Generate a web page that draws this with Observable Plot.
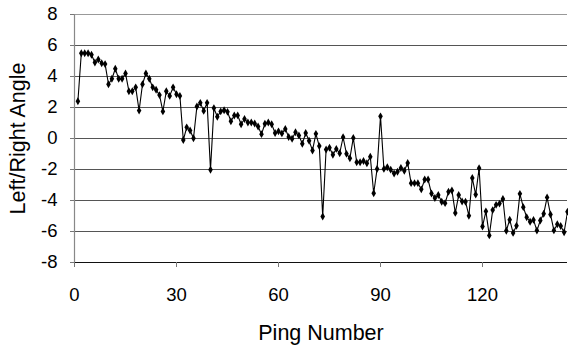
<!DOCTYPE html>
<html>
<head>
<meta charset="utf-8">
<script src="https://cdn.jsdelivr.net/npm/d3@7"></script>
<script src="https://cdn.jsdelivr.net/npm/@observablehq/plot@0.6"></script>
<style>
  html, body { margin: 0; padding: 0; background: #fff; }
  #chart { width: 568px; height: 347px; }
</style>
</head>
<body>
<div id="chart"></div>
<script>
const angles = [
  2.4, 5.5, 5.5, 5.5, 5.4, 4.9, 5.1, 4.85, 4.8, 3.5,
  3.85, 4.5, 3.85, 3.85, 4.2, 3.05, 3.05, 3.3, 1.8, 3.5,
  4.2, 3.85, 3.3, 3.15, 2.8, 1.75, 3.05, 2.75, 3.3, 2.85,
  2.75, -0.1, 0.72, 0.52, 0.02, 2.06, 2.3, 1.78, 2.3, -2.02,
  1.96, 1.4, 1.75, 1.82, 1.72, 1.11, 1.48, 1.49, 0.92, 1.26,
  1.03, 1.03, 0.97, 0.77, 0.28, 0.95, 1.03, 0.92, 0.35, 0.46,
  0.33, 0.62, 0.1, -0.02, 0.4, 0.2, -0.34, 0.35, -0.15, -0.77,
  0.3, -0.49, -5.03, -0.71, -0.6, -1.05, -0.67, -0.95, 0.08, -0.99,
  -1.27, 0.04, -1.53, -1.53, -1.45, -1.6, -1.18, -3.53, -1.96, 1.43,
  -1.96, -1.85, -2.01, -2.26, -2.15, -1.9, -2.08, -1.58, -2.88, -2.88,
  -2.88, -3.28, -2.65, -2.65, -3.55, -3.84, -3.65, -4.08, -4.17, -3.44,
  -3.35, -4.8, -3.65, -4.06, -4.08, -4.98, -2.55, -3.62, -1.92, -5.68,
  -4.7, -6.25, -4.62, -4.28, -4.2, -3.9, -5.95, -5.24, -6.09, -5.63,
  -3.57, -4.43, -5.08, -5.37, -5.25, -5.94, -5.29, -4.86, -3.8, -4.9,
  -5.93, -5.53, -5.64, -6.05, -4.73
];
const pings = angles.map((_, i) => i + 1);
const xTicks = [0, 30, 60, 90, 120];
const yTicks = [-8, -6, -4, -2, 0, 2, 4, 6, 8];
const xTitle = "Ping Number";
const yTitle = "Left/Right Angle";

const data = pings.map((p, i) => ({ping: p, angle: angles[i]}));
const font = "Liberation Sans, Arial, Helvetica, sans-serif";

const chart = Plot.plot({
  width: 568,
  height: 347,
  marginLeft: 74,
  marginRight: 1,
  marginTop: 14,
  marginBottom: 85,
  style: { fontFamily: font, background: "#fff", color: "#000" },
  x: { domain: [0, 145] },
  y: { domain: [-8, 8] },
  marks: [
    Plot.gridY(yTicks.filter(d => d !== 8 && d !== -8), { stroke: "#555", strokeOpacity: 1, strokeWidth: 1 }),
    Plot.ruleY([8], { stroke: "#999", strokeWidth: 1 }),
    Plot.ruleX([0], { stroke: "#888", strokeWidth: 1.2 }),
    Plot.ruleY([-8], { stroke: "#111", strokeWidth: 1.2 }),
    Plot.axisY(yTicks, {
      tickSize: 4, stroke: "#777", tickFormat: d => String(d), label: null,
      tickPadding: 3
    }),
    Plot.text(yTicks, {
      x: 0, y: d => d, text: d => String(d), frameAnchor: "left", textAnchor: "end",
      dx: -17, fontSize: 18.5, fill: "#000", clip: false
    }),
    Plot.axisX(xTicks, {
      tickSize: 5, tickPadding: 20, fontSize: 18.5, stroke: "#777", label: null
    }),
    Plot.text([xTitle], {
      frameAnchor: "bottom", dy: 71, text: d => d, fontSize: 21.5, fill: "#000",
      textAnchor: "middle", lineAnchor: "middle"
    }),
    Plot.text([yTitle], {
      frameAnchor: "left", dx: -56, rotate: -90, text: d => d, fontSize: 21.5, fill: "#000",
      textAnchor: "middle", lineAnchor: "middle"
    }),
    Plot.line(data, { x: "ping", y: "angle", stroke: "#000", strokeWidth: 1.1, clip: true }),
    Plot.dot(data, { x: "ping", y: "angle", symbol: "diamond", r: 2.4, fill: "#000", stroke: "none" })
  ]
});
// drop default y tick labels (custom text used for hyphen-minus)
chart.querySelectorAll('[aria-label="y-axis tick label"]').forEach(n => n.remove());
document.getElementById("chart").appendChild(chart);
</script>
</body>
</html>
